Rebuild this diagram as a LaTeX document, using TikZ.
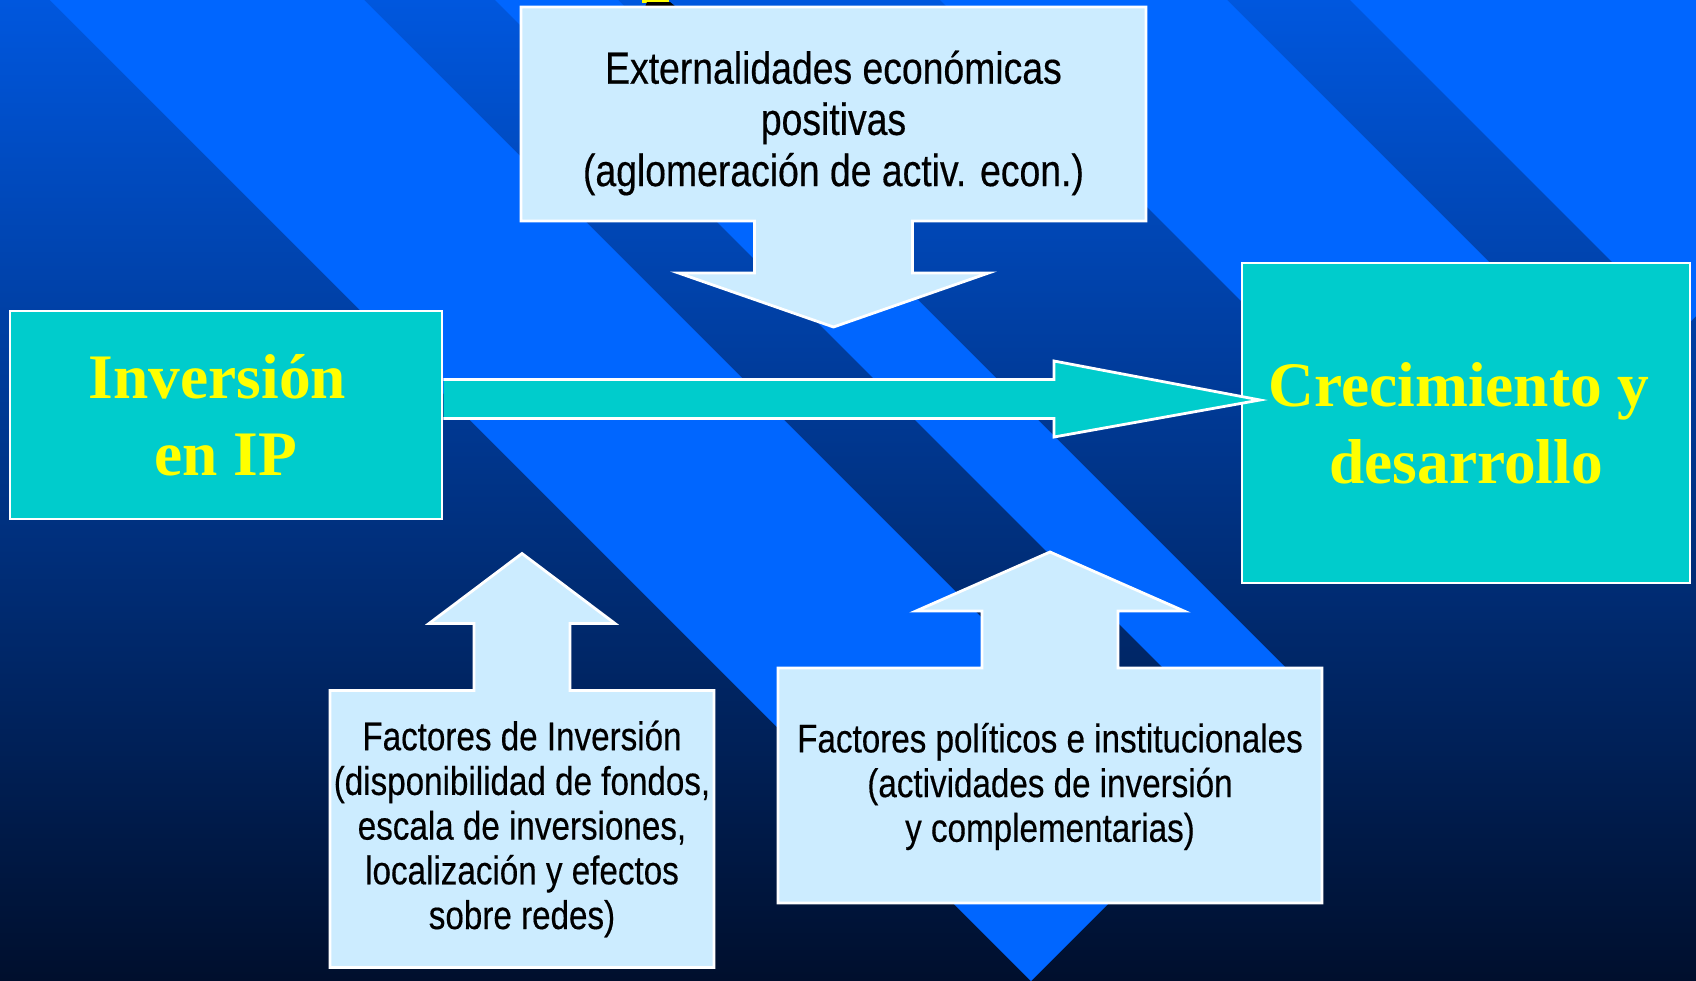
\documentclass[tikz,border=0pt]{standalone}
\usepackage{fontspec}
\setmainfont{Liberation Serif}
\newfontfamily\narrowfont[FakeStretch=0.83,FakeBold=0.35]{Liberation Sans}
\usetikzlibrary{calc}
\definecolor{bgtop}{HTML}{0057DE}
\definecolor{bgmid}{HTML}{003C9C}
\definecolor{bgbot}{HTML}{000F2D}
\definecolor{ribbon}{HTML}{0066FF}
\definecolor{callout}{HTML}{CCECFF}
\definecolor{tealbox}{HTML}{00CCCC}
\definecolor{titleyellow}{HTML}{FFFF00}
\pgfdeclarelayer{bg}
\pgfdeclarelayer{shapes}
\pgfdeclarelayer{front}
\pgfsetlayers{bg,shapes,main,front}
\tikzset{
  outline/.style={draw=white, line width=1.4pt, line join=miter},
  calloutshape/.style={outline, fill=callout},
  titlebox/.style={rectangle, fill=tealbox, draw=white, line width=1.4pt, inner sep=0pt, outer sep=0pt,
    text=titleyellow, font=\bfseries\fontsize{31.7}{38.5}\selectfont, align=center},
  calloutbox/.style={rectangle, inner sep=0pt, outer sep=0pt, text=black, align=center},
  toptext/.style={font=\narrowfont\fontsize{22.5}{25.6}\selectfont},
  bottext/.style={font=\narrowfont\fontsize{20}{22.35}\selectfont},
}
\begin{document}
\begin{tikzpicture}[x=0.5pt,y=-0.5pt]
\useasboundingbox (0,0) rectangle (1696,980);

% ---- nodes ----
\node[calloutbox, minimum width=312.5pt, minimum height=107pt] (ext) at (833.5,114) {};
\node[calloutbox, toptext] (exttext) at ($(ext.center)+(0,9)$)
  {Externalidades económicas\\positivas\\(aglomeración de activ. econ.)};
\node[calloutbox, bottext, minimum width=192pt, minimum height=138.5pt] (fin) at (522,829)
  {Factores de Inversión\\(disponibilidad de fondos,\\escala de inversiones,\\localización y efectos\\sobre redes)};
\node[calloutbox, minimum width=272pt, minimum height=117.5pt] (pol) at (1050,785.5) {};
\node[calloutbox, bottext] (poltext) at ($(pol.center)+(0,1)$)
  {Factores políticos e institucionales\\(actividades de inversión\\y complementarias)};
\node[titlebox, minimum width=216pt, minimum height=104pt] (inv) at (226,415)
  {Inversión\hspace*{8.5pt}\\en IP};
\node[titlebox, minimum width=224pt, minimum height=160pt] (crec) at (1466,423)
  {Crecimiento y\hspace*{7pt}\\desarrollo};

% ---- background ----
\begin{pgfonlayer}{bg}
\shade[top color=bgtop, middle color=bgmid, bottom color=bgbot] (0,0) rectangle (1696,980);
\begin{scope}
\clip (0,0) rectangle (1696,980);
\fill[ribbon] (40,-10) -- (354,-10) -- (1188,824) -- (1031,981) -- cycle;
\fill[ribbon] (485,-10) -- (608,-10) -- (1315,697) -- (1253.5,758.5) -- cycle;
\fill[ribbon] (930,-10) -- (1217,-10) -- (1619.5,392.5) -- (1476,536) -- cycle;
\fill[ribbon] (1340,-10) -- (2000,-10) -- (2006,6) -- (1681,331) -- cycle;
\fill[titleyellow] (642,0) rectangle (669,2.5);
\fill[black] (647,2) -- (670,2) -- (676,7) -- (645,7) -- cycle;
\end{scope}
\end{pgfonlayer}

% ---- callout shapes ----
\begin{pgfonlayer}{shapes}
\filldraw[calloutshape] (ext.north west) -- (ext.north east) -- (ext.south east)
  -- ($(ext.south)+(79,0)$) -- ($(ext.south)+(79,52)$) -- ($(ext.south)+(155,52)$)
  -- ($(ext.south)+(0,106)$) -- ($(ext.south)+(-155,52)$) -- ($(ext.south)+(-79,52)$)
  -- ($(ext.south)+(-79,0)$) -- (ext.south west) -- cycle;
\filldraw[calloutshape] (fin.south west) -- (fin.north west)
  -- ($(fin.north)+(-48,0)$) -- ($(fin.north)+(-48,-67)$) -- ($(fin.north)+(-93,-67)$)
  -- ($(fin.north)+(0,-137)$) -- ($(fin.north)+(93,-67)$) -- ($(fin.north)+(48,-67)$)
  -- ($(fin.north)+(48,0)$) -- (fin.north east) -- (fin.south east) -- cycle;
\filldraw[calloutshape] (pol.south west) -- (pol.north west)
  -- ($(pol.north)+(-68,0)$) -- ($(pol.north)+(-68,-57)$) -- ($(pol.north)+(-134,-57)$)
  -- ($(pol.north)+(0,-116)$) -- ($(pol.north)+(134,-57)$) -- ($(pol.north)+(68,-57)$)
  -- ($(pol.north)+(68,0)$) -- (pol.north east) -- (pol.south east) -- cycle;
\end{pgfonlayer}

% ---- main block arrow ----
\begin{pgfonlayer}{front}
\fill[tealbox] ($(inv.east)+(1.5,-35.5)$) -- ($(crec.west)+(-188,-43.5)$) -- ($(crec.west)+(-188,-62)$)
  -- ($(crec.west)+(18,-23)$) -- ($(crec.west)+(-188,14)$) -- ($(crec.west)+(-188,-4.5)$)
  -- ($(inv.east)+(1.5,3.5)$) -- cycle;
\draw[outline] ($(inv.east)+(1.4,-35.5)$) -- ($(crec.west)+(-188,-43.5)$) -- ($(crec.west)+(-188,-62)$)
  -- ($(crec.west)+(18,-23)$) -- ($(crec.west)+(-188,14)$) -- ($(crec.west)+(-188,-4.5)$)
  -- ($(inv.east)+(1.4,3.5)$);
\end{pgfonlayer}
\end{tikzpicture}
\end{document}
